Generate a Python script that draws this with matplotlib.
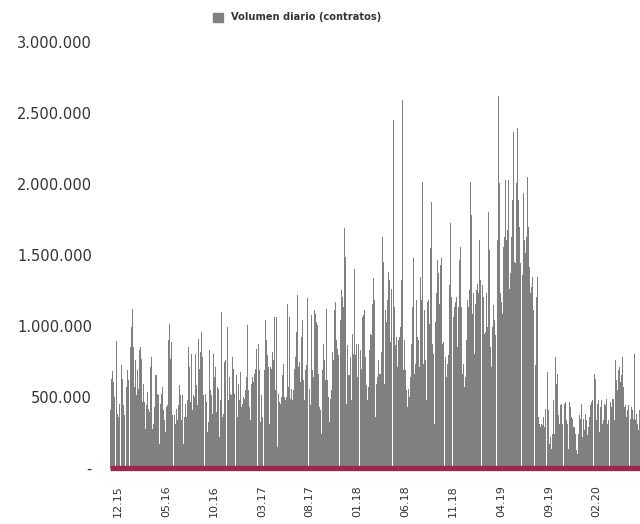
import numpy as np
import matplotlib
matplotlib.use("Agg")
import matplotlib.pyplot as plt
from matplotlib.patches import Patch

# daily volume (thousands of contracts) left to right
vol_dec15_may16 = [
    402, 621, 680, 602, 496, 0, 889, 379, 355, 449,
    0, 720, 626, 438, 367, 0, 567, 689, 614, 0,
    849, 991, 1120, 849, 567, 755, 508, 685, 555, 826,
    849, 767, 461, 591, 461, 273, 438, 532, 414, 390,
    708, 779, 273, 308, 426, 649, 649, 520, 508, 167,
    449, 520, 567, 402, 332, 249, 426, 438, 896, 1014,
    767, 885, 367, 0, 367, 308, 414, 332, 438, 579,
    508, 332, 508, 167, 355, 449, 355, 473, 849, 708,
    461, 802, 402, 508, 500,
]
vol_may16_feb17 = [
    802, 579, 438, 908, 696, 814, 955, 779, 508, 0,
    520, 461, 249, 320, 826, 543, 508, 379, 802, 638,
    708, 390, 567, 555, 214, 473, 1096, 355, 379, 744,
    755, 0, 991, 473, 638, 520, 508, 779, 696, 520,
    0, 649, 355, 591, 473, 673, 426, 449, 496, 485,
    543, 638, 1002, 543, 426, 332, 591, 638, 602, 661,
    696, 838, 0, 873, 685, 320, 508, 355, 0, 685,
    1038, 896, 791, 708, 308, 708, 696, 814, 755, 1061,
    543, 1061, 144, 520, 461, 449, 496, 649, 732, 496,
]
vol_feb17_nov17 = [
    473, 496, 1155, 567, 1061, 485, 555, 473, 543, 696,
    779, 955, 1214, 708, 744, 602, 920, 1038, 614, 473,
    685, 720, 1191, 0, 555, 438, 1073, 685, 638, 1108,
    1085, 1026, 1002, 661, 426, 402, 238, 685, 873, 755,
    614, 1120, 614, 496, 320, 485, 543, 814, 755, 1108,
    1167, 896, 838, 791, 0, 1038, 1249, 1202, 1132, 1685,
    1485, 449, 861, 649, 649, 779, 473, 944, 802, 1402,
    791, 873, 638, 873, 0, 826, 696, 1061, 1073, 1108,
    779, 579, 473, 567, 826, 944, 932, 1155, 1332, 1179,
]
vol_nov17_sep18 = [
    355, 591, 638, 755, 661, 661, 814, 1626, 1449, 591,
    1108, 1026, 1179, 1379, 1320, 885, 1261, 0, 2450, 1132,
    861, 920, 708, 896, 920, 991, 1320, 2591, 685, 896,
    685, 544, 426, 555, 497, 638, 873, 1132, 1473, 661,
    732, 1179, 920, 896, 708, 1343, 1179, 2014, 732, 1108,
    755, 473, 1167, 1179, 1014, 1544, 1873, 873, 802, 308,
    1026, 1226, 1461, 1367, 1155, 1426, 1473, 873, 885, 0,
    779, 638, 732, 791, 1285, 1720, 1202, 0, 1061, 1132,
    1167, 1202, 849, 1132, 1461, 1555, 1132, 661, 732, 567,
]
vol_sep18_aug19 = [
    638, 896, 1179, 1132, 1249, 2014, 1779, 1085, 1226, 802,
    1155, 1249, 1296, 1226, 1602, 1320, 0, 1285, 1202, 944,
    955, 1226, 991, 1802, 1532, 849, 708, 991, 1143, 1038,
    932, 0, 1602, 2614, 2002, 1226, 1167, 1085, 1555, 1626,
    2026, 1602, 1673, 2026, 1261, 1367, 1626, 1885, 2367, 1449,
    1438, 2002, 2391, 1885, 1697, 1438, 0, 1355, 1932, 1602,
    1508, 1626, 2049, 1697, 1414, 1226, 1273, 1344, 1108, 0,
    720, 1202, 1344, 355, 308, 285, 308, 296, 355, 285,
    414, 0, 673, 402, 167, 214, 132, 238, 473, 238,
]
vol_aug19_jul20 = [
    779, 591, 661, 367, 308, 438, 449, 308, 0, 449,
    461, 332, 308, 132, 461, 426, 355, 344, 285, 285,
    238, 120, 96, 238, 367, 344, 449, 214, 344, 261,
    379, 332, 226, 285, 355, 438, 461, 473, 0, 661,
    626, 332, 449, 473, 249, 426, 473, 308, 332, 449,
    438, 485, 308, 332, 0, 461, 426, 485, 485, 332,
    755, 614, 543, 685, 708, 602, 649, 779, 567, 426,
    438, 355, 402, 438, 0, 344, 426, 402, 344, 802,
    332, 379, 308, 261, 402,
]

month_labels = ['12.15', '05.16', '10.16', '03.17', '08.17', '01.18',
                '06.18', '11.18', '04.19', '09.19', '02.20']
y_ticks = [0, 500000, 1000000, 1500000, 2000000, 2500000, 3000000]
y_labels = ['-', '500.000', '1.000.000', '1.500.000', '2.000.000',
            '2.500.000', '3.000.000']

volume = np.array(vol_dec15_may16 + vol_may16_feb17 + vol_feb17_nov17
                  + vol_nov17_sep18 + vol_sep18_aug19 + vol_aug19_jul20) * 1000
n = len(volume)

bar_color = '#808080'
line_color = '#A0254C'
text_color = '#333333'

fig = plt.figure(figsize=(6.4, 5.24), dpi=100)
ax = fig.add_axes([110 / 640, 1 - 467.5 / 524, 530 / 640, (467.5 - 41.7) / 524])

ax.bar(np.arange(n), volume, width=1.0, color=bar_color, linewidth=0)
# thick guinda baseline
ax.axhline(0, color=line_color, linewidth=3.8, solid_capstyle='butt',
           zorder=3, clip_on=False)

ax.set_xlim(-0.5, n - 0.5)
ax.set_ylim(0, 3000000)

# labels every 5 months, first one a few bars in
step = n * 47.84 / 530
first = n * 7.8 / 530
ax.set_xticks(first + step * np.arange(len(month_labels)))
ax.set_xticklabels(month_labels, rotation=90, fontsize=8, color=text_color)
ax.set_yticks(y_ticks)
ax.set_yticklabels(y_labels, fontsize=10.5, color=text_color)
ax.tick_params(axis='y', length=0, pad=13)
ax.tick_params(axis='x', length=0, pad=13)

for s in ax.spines.values():
    s.set_visible(False)

fig.legend(handles=[Patch(color=bar_color, label='Volumen diario (contratos)')],
           loc='center', bbox_to_anchor=(297 / 640, 1 - 17.5 / 524),
           frameon=False, prop={'size': 7.1, 'weight': 'bold'},
           handlelength=1.0, handleheight=1.0, handletextpad=0.85,
           labelcolor=text_color)

fig.savefig('out.png', dpi=100)
